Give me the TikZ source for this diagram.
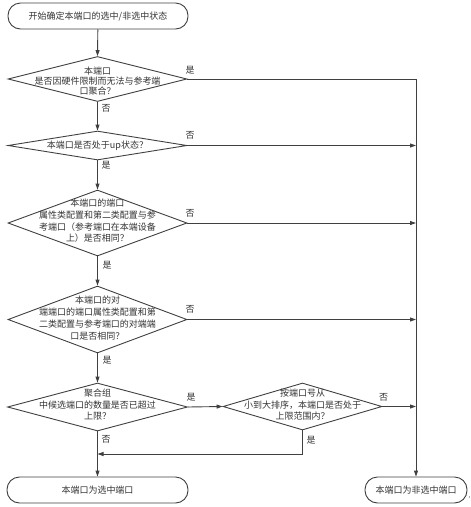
\documentclass[tikz,border=0pt]{standalone}
\usepackage{fontspec}
\setmainfont{Noto Sans CJK SC}
\usetikzlibrary{shapes.geometric,arrows.meta}
\definecolor{ln}{HTML}{404040}
\definecolor{tx}{HTML}{333333}
\begin{document}
\begin{tikzpicture}[x=1pt,y=-1pt,
  every node/.style={text=tx,font=\fontsize{9}{10.5}\selectfont},
  term/.style={draw=ln,line width=0.9pt,rounded corners=12.5pt,minimum height=26pt,inner sep=0pt},
  dia/.style={draw=ln,line width=0.9pt,diamond,inner sep=0pt},
  dtext/.style={align=center,inner sep=0pt},
  conn/.style={draw=ln,line width=0.9pt},
  arr/.style={conn,-{Triangle[length=6pt,width=4pt]}},
  lab/.style={inner sep=0pt}
]
\useasboundingbox (0,0) rectangle (471,507);

% terminals
\node[term,minimum width=180pt] (start) at (98,16) {开始确定本端口的选中/非选中状态};
\node[term,minimum width=181pt] (sel) at (97.5,490) {本端口为选中端口};
\node[term,minimum width=102pt] (nsel) at (416,490) {本端口为非选中端口};
\node[lab,font=\fontsize{6}{6}\selectfont] (dot) at (469.5,498) {,};

% diamonds
\node[dia,minimum width=179pt,minimum height=45pt] (d1) at (97.5,79) {};
\node[dtext,font=\fontsize{9}{10}\selectfont] (t1) at (97.5,81) {本端口\\是否因硬件限制而无法与参考端\\口聚合？};

\node[dia,minimum width=179pt,minimum height=29pt] (d2) at (97.5,145.5) {};
\node[dtext] (t2) at (97.5,146) {本端口是否处于up状态？};

\node[dia,minimum width=179pt,minimum height=66pt] (d3) at (97.5,223) {};
\node[dtext,font=\fontsize{9}{11.7}\selectfont] (t3) at (97.5,221) {本端口的端口\\属性类配置和第二类配置与参\\考端口（参考端口在本端设备\\上）是否相同？};

\node[dia,minimum width=179pt,minimum height=67pt] (d4) at (97.5,319.5) {};
\node[dtext,font=\fontsize{9}{11.9}\selectfont] (t4) at (97.5,318) {本端口的对\\端端口的端口属性类配置和第\\二类配置与参考端口的对端端\\口是否相同？};

\node[dia,minimum width=180pt,minimum height=48pt] (d5) at (97.5,407) {};
\node[dtext,font=\fontsize{9}{11.5}\selectfont] (t5) at (97.5,405) {聚合组\\中候选端口的数量是否已超过\\上限？};

\node[dia,minimum width=159pt,minimum height=47pt] (d6) at (302.5,406.5) {};
\node[dtext,font=\fontsize{9}{11.5}\selectfont] (t6) at (302.5,405) {按端口号从\\小到大排序，本端口是否处于\\上限范围内？};

% helper coordinates
\coordinate (r1) at (416,79);
\coordinate (r2) at (416,145.5);
\coordinate (r3) at (416,223);
\coordinate (r4) at (416,319.5);
\coordinate (r6) at (416,406.5);
\coordinate (b6) at (302.5,454);
\coordinate (m6) at (97.5,454);

% main flow
\draw[arr] (start) -- (d1.north);
\draw[arr] (d1.south) -- (d2.north);
\draw[arr] (d2.south) -- (d3.north);
\draw[arr] (d3.south) -- (d4.north);
\draw[arr] (d4.south) -- (d5.north);
\draw[arr] (d5.south) -- (sel.north);

% right branches
\draw[arr] (d1.east) -- (r1) -- (nsel.north);
\draw[arr] (d2.east) -- (r2);
\draw[arr] (d3.east) -- (r3);
\draw[arr] (d4.east) -- (r4);
\draw[arr] (d5.east) -- (d6.west);
\draw[arr] (d6.east) -- (r6);
\draw[arr] (d6.south) -- (b6) -- (m6);

% labels
\node[lab] (l1) at (190,70) {是};
\node[lab] (l2) at (106,108) {否};
\node[lab] (l3) at (190,135.5) {否};
\node[lab] (l4) at (106,165) {是};
\node[lab] (l5) at (190,213) {否};
\node[lab] (l6) at (107,265) {是};
\node[lab] (l7) at (190,309) {否};
\node[lab] (l8) at (107,360) {是};
\node[lab] (l9) at (191,397) {是};
\node[lab] (l10) at (106,439) {否};
\node[lab] (l11) at (383.5,397) {否};
\node[lab] (l12) at (311,440) {是};
\end{tikzpicture}
\end{document}
